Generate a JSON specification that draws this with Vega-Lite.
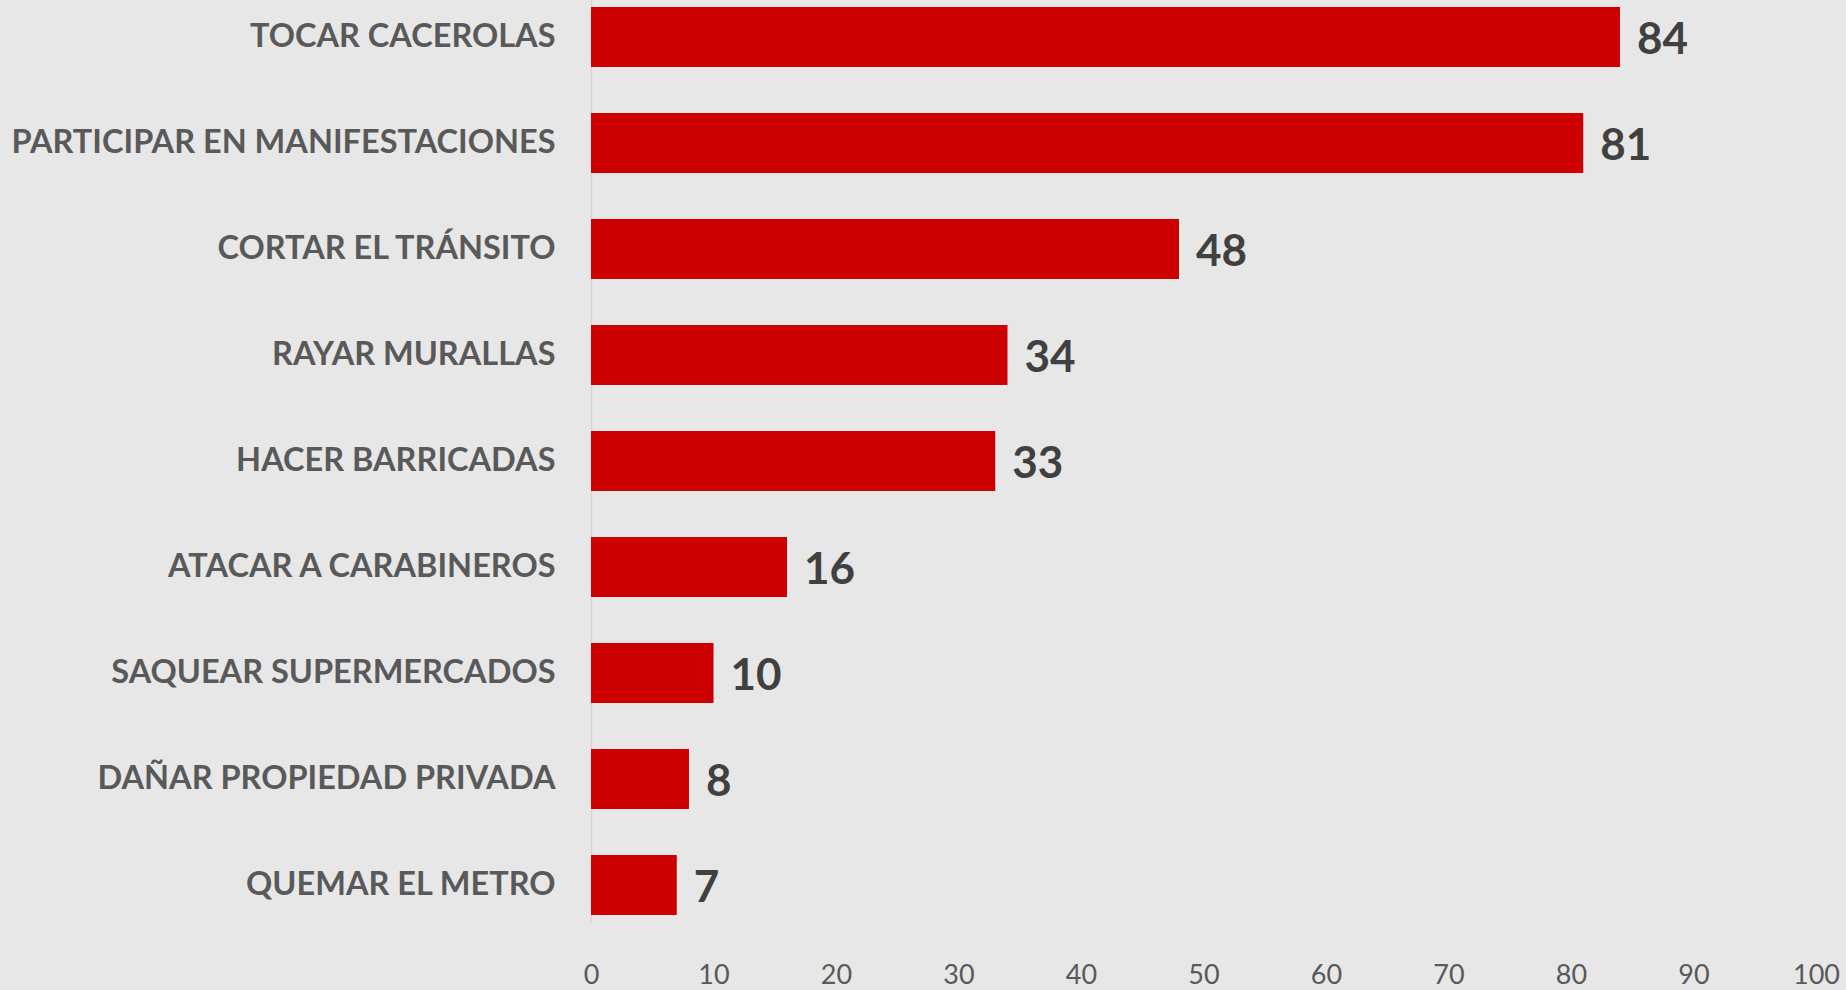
{
  "$schema": "https://vega.github.io/schema/vega-lite/v6.json",
  "autosize": {"type": "none"},
  "width": 1225,
  "height": 922,
  "padding": {"left": 591, "top": 0, "right": 30, "bottom": 68},
  "background": "#e7e7e7",
  "config": {"view": {"stroke": null}},
  "data": {
    "values": [
      {"accion": "TOCAR CACEROLAS", "valor": 84},
      {"accion": "PARTICIPAR EN MANIFESTACIONES", "valor": 81},
      {"accion": "CORTAR EL TRÁNSITO", "valor": 48},
      {"accion": "RAYAR MURALLAS", "valor": 34},
      {"accion": "HACER BARRICADAS", "valor": 33},
      {"accion": "ATACAR A CARABINEROS", "valor": 16},
      {"accion": "SAQUEAR SUPERMERCADOS", "valor": 10},
      {"accion": "DAÑAR PROPIEDAD PRIVADA", "valor": 8},
      {"accion": "QUEMAR EL METRO", "valor": 7}
    ]
  },
  "encoding": {
    "y": {
      "field": "accion", "type": "nominal", "sort": null,
      "scale": {"paddingInner": 0.434, "paddingOuter": 0.066},
      "axis": {
        "title": null, "ticks": false, "domain": true, "domainColor": "#d4d4d4", "domainWidth": 1.5,
        "labelFont": "Lato", "labelFontWeight": "bold", "labelFontSize": 32.5,
        "labelColor": "#595959", "labelPadding": 36, "labelLimit": 700, "grid": false
      }
    },
    "x": {
      "field": "valor", "type": "quantitative",
      "scale": {"domain": [0, 100], "nice": false},
      "axis": {
        "title": null, "values": [0,10,20,30,40,50,60,70,80,90,100],
        "domain": false, "ticks": false, "grid": false,
        "labelFont": "Lato", "labelFontSize": 27, "labelColor": "#595959",
        "labelPadding": 40, "labelFlush": false
      }
    }
  },
  "layer": [
    {"mark": {"type": "bar", "color": "#cc0000"}},
    {
      "mark": {"type": "text", "align": "left", "baseline": "middle", "dx": 17, "dy": 4,
               "font": "Lato", "fontWeight": "bold", "fontSize": 44, "color": "#404040"},
      "encoding": {"text": {"field": "valor", "type": "quantitative"}}
    }
  ]
}
